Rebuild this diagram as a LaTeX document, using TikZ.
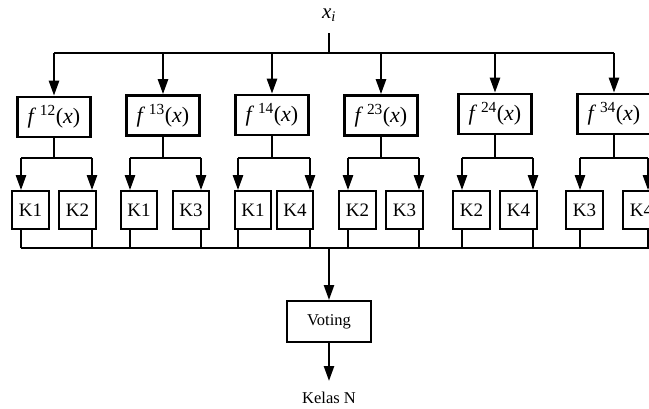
\documentclass[tikz,border=0pt]{standalone}
\usepackage{fontspec}
\setmainfont{Liberation Serif}
\usetikzlibrary{arrows.meta}
\begin{document}
\begin{tikzpicture}[x=1pt,y=-1pt,
  line/.style={draw=black,line width=2.4pt},
  arr/.style={line, -{Triangle[length=15pt,width=10pt]}},
  fbox/.style={draw, line width=2.6pt, minimum width=72.5pt, minimum height=40pt, inner sep=0pt, font=\fontsize{22}{24}\selectfont},
  kbox/.style={draw, line width=2.2pt, minimum width=36.5pt, minimum height=37.5pt, inner sep=0pt, font=\fontsize{19}{21}\selectfont},
  vbox/.style={draw, line width=2.4pt, minimum width=83.5pt, minimum height=40.5pt, inner sep=0pt, font=\fontsize{16.5}{18}\selectfont},
  lbl/.style={inner sep=0pt, font=\fontsize{16.5}{18}\selectfont}
]
\useasboundingbox (0,0) rectangle (649,408);
\node[lbl, font=\fontsize{21}{23}\selectfont] (xi) at (329,15) {\textit{x}\textsubscript{\textit{i}}};
\coordinate (top) at (329,53);
\coordinate (xb) at (329,33);
\draw[line] (xb) -- (top);
\foreach \i/\fx/\fy/\fs/\kax/\kal/\kbx/\kbl/\la/\ra in {
  1/54/117/12/30.5/K1/77.5/K2/21/92,
  2/163/115.5/13/139/K1/191/K3/130/201,
  3/272/115/14/253/K1/295/K4/238/310,
  4/381/115.5/23/357.5/K2/404.5/K3/348/419,
  5/495/114/24/471.5/K2/518.5/K4/462/533,
  6/614/114/34/584.5/K3/641.5/K4/580/648}{
  \node[fbox] (f\i) at (\fx,\fy) {\textit{f}\,\textsuperscript{\fs}(\textit{x})};
  \coordinate (t\i) at (\fx,53);
  \draw[arr] (t\i) -- (f\i.north);
  \node[kbox] (ka\i) at (\kax,210) {\kal};
  \node[kbox] (kb\i) at (\kbx,210) {\kbl};
  \coordinate (s\i) at (\fx,158);
  \coordinate (sl\i) at (\la,158);
  \coordinate (sr\i) at (\ra,158);
  \coordinate (bl\i) at (\la,248);
  \coordinate (br\i) at (\ra,248);
  \draw[line] (f\i.south) -- (s\i);
  \draw[line] (sl\i) -- (sr\i);
  \draw[arr] (sl\i) -- (sl\i |- ka\i.north);
  \draw[arr] (sr\i) -- (sr\i |- kb\i.north);
  \draw[line] (sl\i |- ka\i.south) -- (bl\i);
  \draw[line] (sr\i |- kb\i.south) -- (br\i);
}
\draw[line] (t1) -- (t6);
\coordinate (be) at (649,248);
\coordinate (bm) at (329,248);
\draw[line] (bl1) -- (be);
\node[vbox] (vot) at (329,321.5) {Voting};
\draw[arr] (bm) -- (vot.north);
\node[lbl] (kelas) at (329,398) {Kelas N};
\coordinate (ke) at (329,381);
\draw[arr] (vot.south) -- (ke);
\end{tikzpicture}
\end{document}
